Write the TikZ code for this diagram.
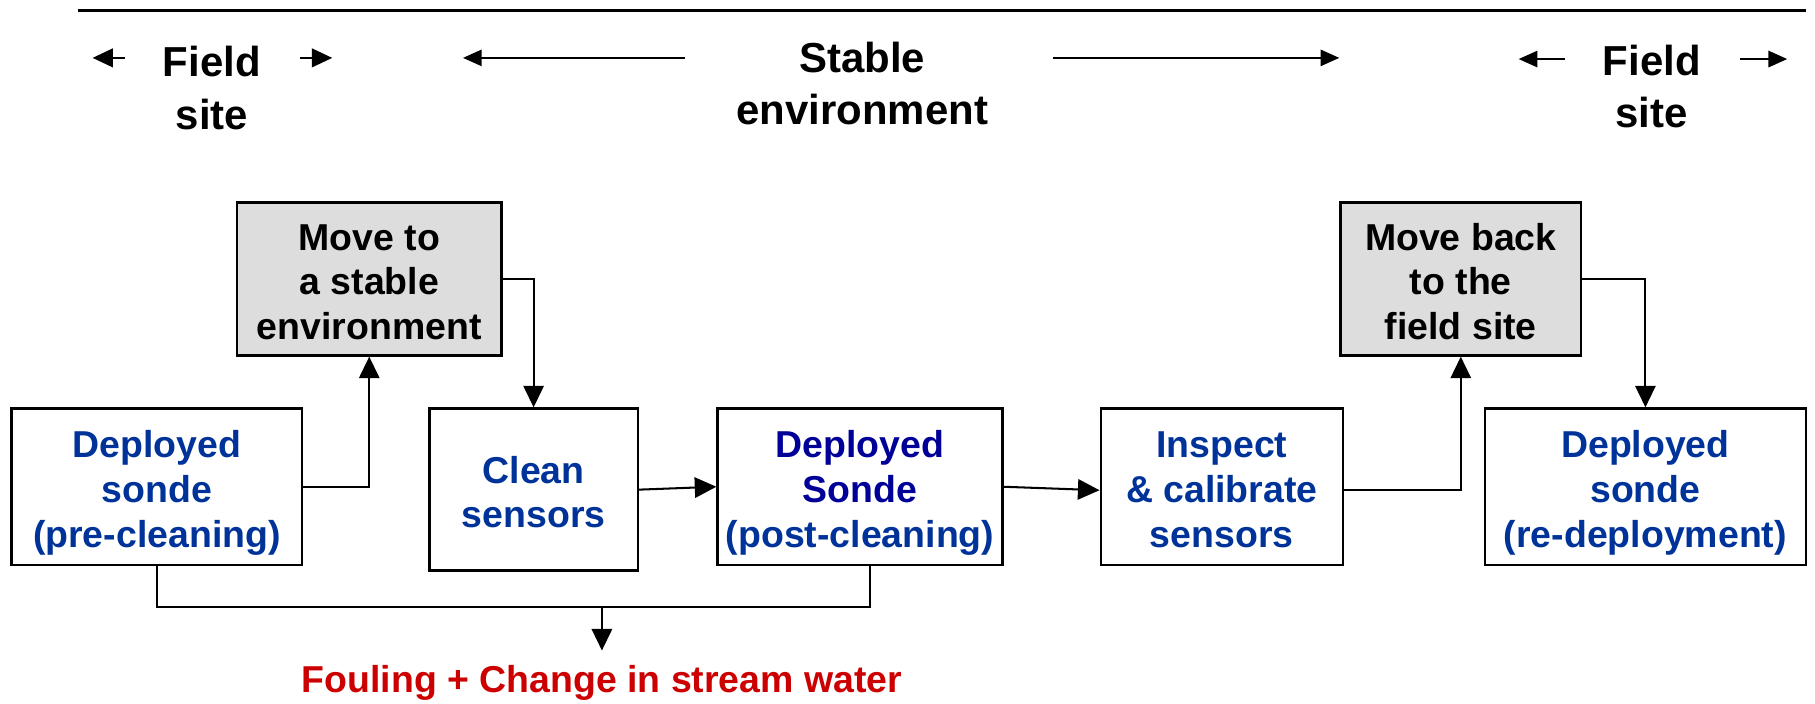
\documentclass[tikz,border=0pt]{standalone}
\usepackage{fontspec}
\setmainfont{Liberation Sans}
\usetikzlibrary{arrows.meta,calc}
\definecolor{boxblue}{HTML}{003399}
\definecolor{darkblue}{HTML}{000099}
\definecolor{foulred}{HTML}{CC0000}
\definecolor{boxgray}{HTML}{DDDDDD}
\newcommand\topst{\rule{0pt}{10pt}}
\newcommand\botst{\rule[-2.2pt]{0pt}{0pt}}
\begin{document}
\begin{tikzpicture}[x=0.01cm,y=-0.01cm,
  box/.style={draw=black,line width=0.6pt,fill=white,align=center,inner sep=0pt,
    font=\bfseries\fontsize{9.2}{11}\selectfont,text=boxblue},
  grbox/.style={box,fill=boxgray,text=black},
  conn/.style={line width=0.5pt,-{Triangle[length=5.3pt,width=5pt]}},
  plain/.style={line width=0.5pt},
  head/.style={align=center,inner sep=0pt,font=\bfseries\fontsize{10.3}{12.8}\selectfont},
  harr/.style={line width=0.5pt,-{Triangle[length=4.6pt,width=4pt]}},
  sarr/.style={line width=0.5pt,-{Triangle[length=5pt,width=4.6pt]}}]
\useasboundingbox (0,0) rectangle (1568,608);
% top rule
\coordinate (tl) at (67,9);
\coordinate (tr) at (1560,9);
\draw[line width=0.6pt] (tl) -- (tr);
% header labels
\node[head] (fs1) at (183,76) {Field\\site};
\node[head] (se) at (745,72.5) {Stable\\environment};
\node[head] (fs2) at (1427,75) {Field\\site};
% header arrows
\coordinate (a1s) at (108,50); \coordinate (a1e) at (80,50);
\coordinate (a2s) at (259,50); \coordinate (a2e) at (287,50);
\coordinate (a3s) at (592,50); \coordinate (a3e) at (400,50);
\coordinate (a4s) at (910,50); \coordinate (a4e) at (1157,50);
\coordinate (a5s) at (1352,51); \coordinate (a5e) at (1312,51);
\coordinate (a6s) at (1503,51); \coordinate (a6e) at (1544,51);
\draw[sarr] (a1s) -- (a1e);
\draw[sarr] (a2s) -- (a2e);
\draw[harr] (a3s) -- (a3e);
\draw[harr] (a4s) -- (a4e);
\draw[harr] (a5s) -- (a5e);
\draw[harr] (a6s) -- (a6e);
% boxes
\node[grbox,minimum width=2.28cm,minimum height=1.32cm] (move) at (319,241) {\topst Move to\\a stable\\environment\botst};
\node[box,minimum width=2.51cm,minimum height=1.35cm] (pre) at (135.5,420.5) {\topst Deployed\\sonde\\(pre-cleaning)\botst};
\node[box,minimum width=1.80cm,minimum height=1.40cm] (clean) at (461,423) {\topst Clean\\sensors\botst};
\node[box,minimum width=2.46cm,minimum height=1.35cm] (post) at (743,420.5) {\topst\textcolor{darkblue}{Deployed}\\\textcolor{darkblue}{Sonde}\\(post-cleaning)\botst};
\node[box,minimum width=2.09cm,minimum height=1.35cm] (insp) at (1055.5,420.5) {\topst Inspect\\\& calibrate\\sensors\botst};
\node[grbox,minimum width=2.08cm,minimum height=1.32cm] (back) at (1262,241) {\topst Move back\\to the\\field site\botst};
\node[box,minimum width=2.77cm,minimum height=1.35cm] (redep) at (1421.5,420.5) {\topst Deployed\\sonde\\(re-deployment)\botst};
% bottom label
\node[anchor=north,inner sep=3.4pt,text=foulred,font=\bfseries\fontsize{9.2}{10.8}\selectfont] (foul) at (520,562) {Fouling + Change in stream water};
% connectors
\draw[conn] (pre.east) -| (move.south);
\draw[conn] (move.east) -| (clean.north);
\draw[conn] (clean.east) -- (post.west);
\draw[conn] (post.east) -- ($(insp.west)+(0,3)$);
\draw[conn] ($(insp.east)+(0,3)$) -| (back.south);
\draw[conn] (back.east) -| (redep.north);
\coordinate (j) at (520,524);
\draw[plain] (pre.south) |- (j) -| ($(post.south)+(9,0)$);
\draw[conn] (j) -- (foul.north);
\end{tikzpicture}
\end{document}
